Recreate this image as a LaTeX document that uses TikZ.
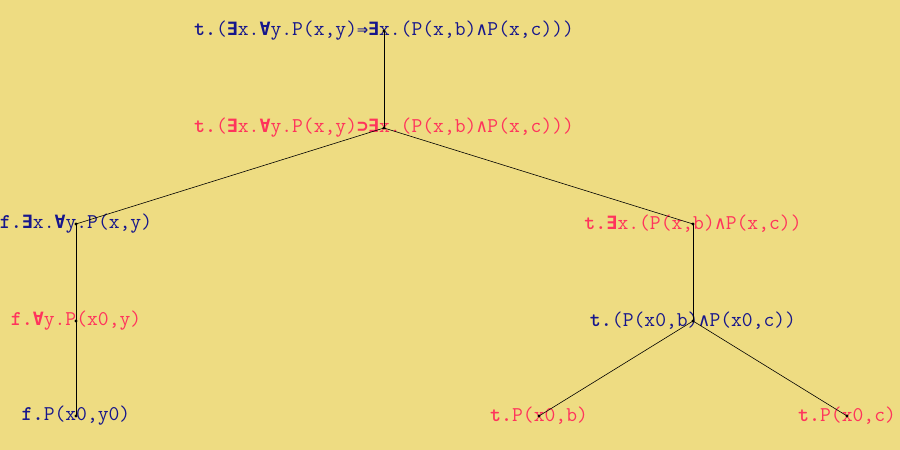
\documentclass[tikz,border=0pt]{standalone}
\usepackage{fontspec}
\newfontfamily\symfont[Scale=0.872]{DejaVu Sans Mono}
\usetikzlibrary{positioning}

\definecolor{bgyellow}{RGB}{238,220,130}
\definecolor{tblue}{RGB}{22,22,140}
\definecolor{tred}{RGB}{255,52,92}

\newcommand{\qEx}{{\symfont\bfseries ∃}}
\newcommand{\qAll}{{\symfont\bfseries ∀}}
\newcommand{\qImp}{{\symfont\bfseries ⇒}}
\newcommand{\qSup}{{\symfont\bfseries ⊃}}
\newcommand{\qAnd}{{\symfont ∧}}
\newcommand{\sgn}[1]{{\bfseries #1.}}

\tikzset{
  formula/.style={inner sep=0pt, font=\ttfamily\fontsize{21}{23}\selectfont},
  posf/.style={formula, text=tblue},
  negf/.style={formula, text=tred},
  branch/.style={line width=0.6pt, black},
  joint/.style={fill=black}
}

\begin{document}
\begin{tikzpicture}[x=1pt,y=1pt]

  \fill[bgyellow] (0,0) rectangle (900,450);
  \useasboundingbox (0,0) rectangle (900,450);

  % level 0
  \node[posf] (root) at (384,419) {\sgn{t}(\qEx x.\qAll y.P(x,y)\qImp\qEx x.(P(x,b)\qAnd P(x,c)))};
  % level 1
  \node[negf] (imp) at (384,322) {\sgn{t}(\qEx x.\qAll y.P(x,y)\qSup\qEx x.(P(x,b)\qAnd P(x,c)))};
  % level 2
  \node[posf] (exl) at (76,226) {\sgn{f}\qEx x.\qAll y.P(x,y)};
  \node[negf] (exr) at (693,226) {\sgn{t}\qEx x.(P(x,b)\qAnd P(x,c))};
  % level 3
  \node[negf] (ally) at (76,129) {\sgn{f}\qAll y.P(x0,y)};
  \node[posf] (andn) at (693,129) {\sgn{t}(P(x0,b)\qAnd P(x0,c))};
  % level 4
  \node[posf] (py) at (76,34) {\sgn{f}P(x0,y0)};
  \node[negf] (pb) at (539,34) {\sgn{t}P(x0,b)};
  \node[negf] (pc) at (847,34) {\sgn{t}P(x0,c)};

  \draw[branch] (root.center) -- (imp.center);
  \draw[branch] (imp.center) -- (exl.center);
  \draw[branch] (imp.center) -- (exr.center);
  \draw[branch] (exl.center) -- (ally.center);
  \draw[branch] (ally.center) -- (py.center);
  \draw[branch] (exr.center) -- (andn.center);
  \draw[branch] (andn.center) -- (pb.center);
  \draw[branch] (andn.center) -- (pc.center);

  \foreach \n in {root,imp,exl,exr,ally,andn,py,pb,pc}
    \fill[joint] (\n.center) circle (1.6pt);

\end{tikzpicture}
\end{document}
